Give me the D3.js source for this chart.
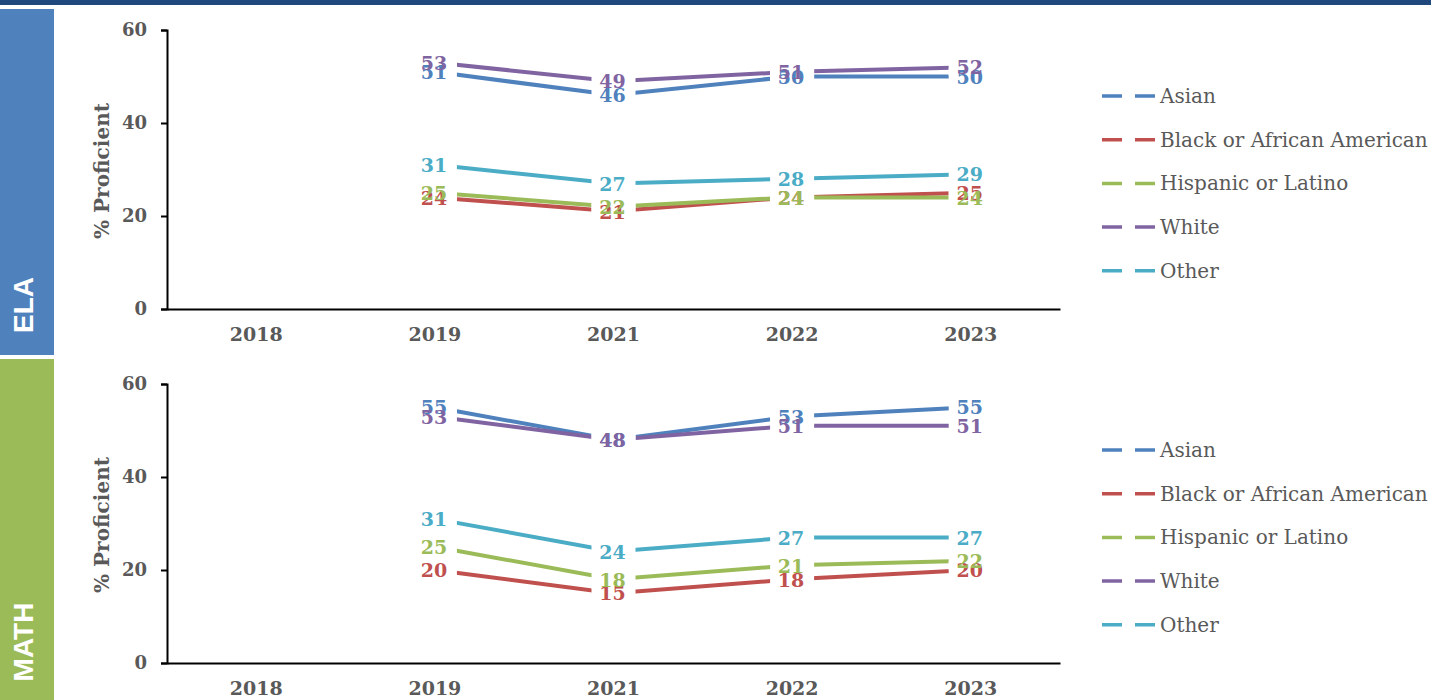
<!DOCTYPE html>
<html>
<head>
<meta charset="utf-8">
<script src="https://d3js.org/d3.v7.min.js"></script>
<style>
  body { margin: 0; background: #ffffff; }
  svg { display: block; }
  text { font-family: "DejaVu Serif", serif; }
</style>
</head>
<body>
<div id="chart"></div>
<script>
// categories
const years = ["2018", "2019", "2021", "2022", "2023"];
const groups = ["Asian", "Black or African American", "Hispanic or Latino", "White", "Other"];
const yTicks = [0, 20, 40, 60];

// ELA % proficient (2018 has no data)
const elaAsian    = [null, 51, 46, 50, 50];
const elaBlack    = [null, 24, 21, 24, 25];
const elaHispanic = [null, 25, 22, 24, 24];
const elaWhite    = [null, 53, 49, 51, 52];
const elaOther    = [null, 31, 27, 28, 29];

// MATH % proficient
const mathAsian    = [null, 55, 48, 53, 55];
const mathBlack    = [null, 20, 15, 18, 20];
const mathHispanic = [null, 25, 18, 21, 22];
const mathWhite    = [null, 53, 48, 51, 51];
const mathOther    = [null, 31, 24, 27, 27];

const groupColors = ["#4F81BD", "#C0504D", "#9BBB59", "#8064A2", "#4BACC6"];
const textGray = "#595959";

const width = 1431, height = 700;

const svg = d3.select("#chart").append("svg")
    .attr("width", width)
    .attr("height", height);

// dark strip on top
svg.append("rect")
    .attr("x", 0).attr("y", 0)
    .attr("width", width).attr("height", 5)
    .attr("fill", "#1F497D");

const x = d3.scaleBand().domain(years).range([167, 1060]);

function drawPanel(top, tabTop, tabBottom, tabColor, subject, textY, series) {
    // subject tab on the left
    svg.append("rect")
        .attr("x", 0).attr("y", tabTop)
        .attr("width", 54).attr("height", tabBottom - tabTop)
        .attr("fill", tabColor);
    svg.append("text")
        .attr("transform", `translate(33,${textY}) rotate(-90)`)
        .attr("text-anchor", "middle")
        .style("font-family", "'Liberation Sans', Arial, sans-serif")
        .style("font-weight", "bold")
        .style("font-size", "28px")
        .attr("fill", "#ffffff")
        .text(subject);

    const y = d3.scaleLinear().domain([0, 60]).range([top + 279, top]);
    const g = svg.append("g");

    // y axis
    const yAxis = g.append("g")
        .attr("transform", "translate(167,0)")
        .call(d3.axisLeft(y).tickValues(yTicks).tickSize(6).tickPadding(14));
    yAxis.select(".domain").attr("stroke", "#000").attr("stroke-width", 2);
    yAxis.selectAll(".tick line").attr("stroke", "#000").attr("stroke-width", 2);
    yAxis.selectAll(".tick text")
        .attr("fill", textGray)
        .style("font-family", "'DejaVu Serif', serif")
        .style("font-weight", "bold")
        .style("font-size", "18px");

    // x axis
    const xAxis = g.append("g")
        .attr("transform", `translate(0,${top + 279})`)
        .call(d3.axisBottom(x).tickSize(0).tickPadding(19).tickSizeOuter(0));
    xAxis.select(".domain").attr("stroke", "#000").attr("stroke-width", 2);
    xAxis.selectAll(".tick text")
        .attr("fill", textGray)
        .style("font-family", "'DejaVu Serif', serif")
        .style("font-weight", "bold")
        .style("font-size", "19px");

    // y axis title
    g.append("text")
        .attr("transform", `translate(109,${top + 141}) rotate(-90)`)
        .attr("text-anchor", "middle")
        .attr("fill", textGray)
        .style("font-weight", "bold")
        .style("font-size", "20px")
        .attr("textLength", 136)
        .attr("lengthAdjust", "spacingAndGlyphs")
        .text("% Proficient");

    const cx = d => x(d) + x.bandwidth() / 2;
    const line = d3.line()
        .defined(d => d.v != null)
        .x(d => cx(d.year))
        .y(d => y(d.v));

    series.forEach((vals, i) => {
        const pts = years.map((yr, j) => ({ year: yr, v: vals[j] }));
        g.append("path")
            .datum(pts)
            .attr("fill", "none")
            .attr("stroke", groupColors[i])
            .attr("stroke-width", 4)
            .attr("d", line);
    });

    // label knock-out boxes then label texts
    const labels = [];
    series.forEach((vals, i) => {
        years.forEach((yr, j) => {
            if (vals[j] != null) labels.push({ year: yr, v: vals[j], i: i });
        });
    });
    g.selectAll("rect.lblbg")
        .data(labels)
        .join("rect")
        .attr("class", "lblbg")
        .attr("x", d => cx(d.year) - 22)
        .attr("y", d => y(d.v) - 9)
        .attr("width", 44)
        .attr("height", 18)
        .attr("fill", "#ffffff");
    g.selectAll("text.lbl")
        .data(labels)
        .join("text")
        .attr("class", "lbl")
        .attr("x", d => cx(d.year) - 1)
        .attr("y", d => y(d.v))
        .attr("dy", "0.38em")
        .attr("text-anchor", "middle")
        .attr("fill", d => groupColors[d.i])
        .style("font-weight", "bold")
        .style("font-size", "19px")
        .text(d => d3.format("d")(d.v));

    // legend
    const legend = g.append("g");
    groups.forEach((name, i) => {
        const ly = top + 66 + i * 43.7;
        legend.append("line")
            .attr("x1", 1102).attr("x2", 1155)
            .attr("y1", ly).attr("y2", ly)
            .attr("stroke", groupColors[i])
            .attr("stroke-width", 3.5)
            .attr("stroke-dasharray", "20 13 20");
        legend.append("text")
            .attr("x", 1160).attr("y", ly)
            .attr("dy", "0.35em")
            .attr("fill", textGray)
            .style("font-size", "20px")
            .text(name);
    });
}

drawPanel(30, 9, 355, "#4F81BD", "ELA", 305,
    [elaAsian, elaBlack, elaHispanic, elaWhite, elaOther]);
drawPanel(384, 359, 700, "#9BBB59", "MATH", 642,
    [mathAsian, mathBlack, mathHispanic, mathWhite, mathOther]);
</script>
</body>
</html>
